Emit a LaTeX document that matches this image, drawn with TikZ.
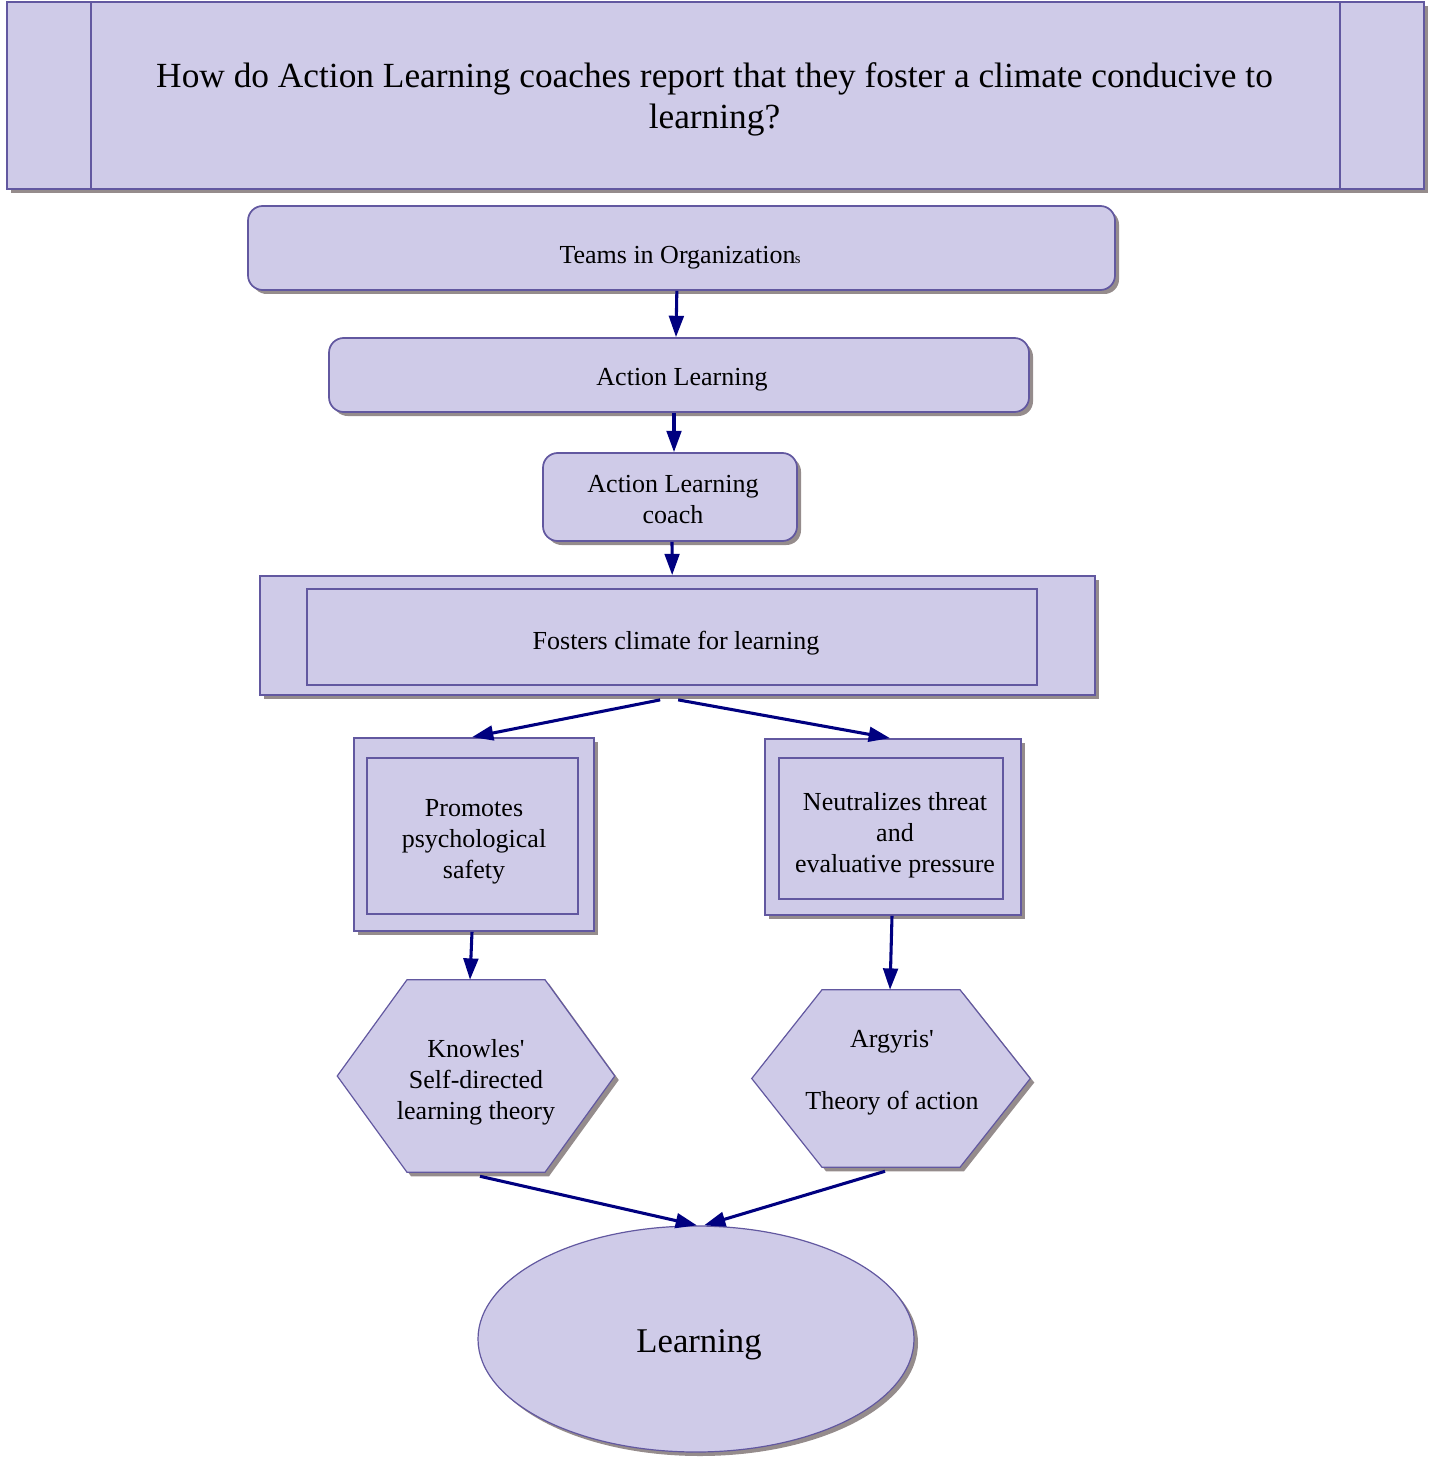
\documentclass[tikz,border=0pt]{standalone}
\usepackage{fontspec}
\setmainfont{Liberation Serif}
\usetikzlibrary{shadows,arrows.meta,shapes.geometric}
\definecolor{boxfill}{RGB}{207,203,232}
\definecolor{boxline}{RGB}{98,88,160}
\definecolor{shadowgray}{RGB}{149,140,140}
\definecolor{arrnavy}{RGB}{0,0,128}
\tikzset{
  shad/.style={drop shadow={shadow xshift=3pt,shadow yshift=-3pt,fill=shadowgray,opacity=1}},
  boxbase/.style={fill=boxfill,draw=boxline,line width=1.3pt,shad,inner sep=0pt},
  rbox/.style={boxbase,rectangle,rounded corners=11pt},
  sbox/.style={boxbase,rectangle},
  innerbox/.style={draw=boxline,line width=1.1pt},
  hexsty/.style={fill=boxfill,draw=boxline,line width=0.9pt,shad},
  hexbox/.style={inner sep=0pt},
  txt/.style={align=center,inner sep=0pt,font=\fontsize{19.5pt}{23.25pt}\selectfont},
  arr/.style={draw=arrnavy,line width=2.3pt,-{Triangle[length=16pt,width=11pt]}},
}
\begin{document}
\begin{tikzpicture}[x=0.75pt,y=-0.75pt]
\useasboundingbox (0,0) rectangle (1429,1458);
% title
\node[sbox,minimum width=1062.75pt,minimum height=140.25pt] (title) at (715.5,95.5) {};
\draw[boxline,line width=1.3pt] (title.north west -| 91,0) -- (title.south west -| 91,0);
\draw[boxline,line width=1.3pt] (title.north west -| 1340,0) -- (title.south west -| 1340,0);
\node[txt,font=\fontsize{26.5pt}{31pt}\selectfont] (titlet) at (714.5,99.5)
  {How do Action Learning coaches report that they foster a climate conducive to\\learning?};
% chain
\node[rbox,minimum width=650.25pt,minimum height=63pt] (teams) at (681.5,248) {};
\node[txt] (teamst) at (680,258) {Teams in Organization\kern-0.5pt{\fontsize{11pt}{11pt}\selectfont s}};
\node[rbox,minimum width=525pt,minimum height=55.5pt] (al) at (679,375) {};
\node[txt] (alt) at (682,380) {Action Learning};
\node[rbox,minimum width=190.5pt,minimum height=66pt] (coach) at (670,497) {};
\node[txt] (coacht) at (673,500) {Action Learning\\coach};
\node[sbox,minimum width=626.25pt,minimum height=89.25pt] (fost) at (677.5,635.5) {};
\draw[innerbox] (307,589) rectangle (1037,685);
\node[txt] (fostt) at (676,643) {Fosters climate for learning};
\node[sbox,minimum width=180pt,minimum height=144.75pt] (prom) at (474,834.5) {};
\draw[innerbox] (367,758) rectangle (578,914);
\node[txt] (promt) at (474,842) {Promotes\\psychological\\safety};
\node[sbox,minimum width=192pt,minimum height=132pt] (neut) at (893,827) {};
\draw[innerbox] (779,758) rectangle (1003,899);
\node[txt] (neutt) at (895,835) {Neutralizes threat\\and\\evaluative pressure};
% hexagons
\node[hexbox,minimum width=207.75pt,minimum height=144pt] (kn) at (476,1076) {};
\node[hexbox,minimum width=208.5pt,minimum height=132.75pt] (arg) at (891,1078.5) {};
\path[hexsty] (kn.west) -- ([xshift=-51.75pt]kn.north) -- ([xshift=51.75pt]kn.north) -- (kn.east)
  -- ([xshift=51.75pt]kn.south) -- ([xshift=-51.75pt]kn.south) -- cycle;
\path[hexsty] (arg.west) -- ([xshift=-51.75pt]arg.north) -- ([xshift=51.75pt]arg.north) -- (arg.east)
  -- ([xshift=51.75pt]arg.south) -- ([xshift=-51.75pt]arg.south) -- cycle;
\node[txt] (knt) at (476,1082) {Knowles\textquotesingle\\Self-directed\\learning theory};
\node[txt] (argt) at (892,1073) {Argyris\textquotesingle\\\mbox{}\\Theory of action};
% ellipse
\node[ellipse,fill=boxfill,draw=boxline,line width=0.9pt,shad,inner sep=0pt,
  minimum width=327pt,minimum height=169.5pt] (learn) at (696,1339) {};
\node[txt,font=\fontsize{26pt}{30pt}\selectfont] (learnt) at (699,1345) {Learning};
% connectors
\draw[arr] ([xshift=-3.5pt]teams.south) -- ([xshift=-2.25pt]al.north);
\draw[arr] ([xshift=-3.75pt]al.south) -- ([xshift=3pt]coach.north);
\draw[arr] ([xshift=1.5pt]coach.south) -- ([xshift=-4pt]fost.south |- fost.north);
\draw[arr] ([xshift=-13pt,yshift=-3pt]fost.south) -- ([xshift=-1.5pt]prom.north);
\draw[arr] ([xshift=0.5pt,yshift=-3pt]fost.south) -- ([xshift=-2.25pt]neut.north);
\draw[arr] ([xshift=-1.5pt]prom.south) -- ([xshift=-4.5pt]kn.north);
\draw[arr] ([xshift=-0.75pt]neut.south) -- ([xshift=-0.75pt]arg.north);
\draw[arr] ([xshift=3pt,yshift=-3pt]kn.south) -- ([xshift=0.75pt]learn.north);
\draw[arr] ([xshift=-4.5pt,yshift=-3pt]arg.south) -- ([xshift=6pt]learn.north);
\end{tikzpicture}
\end{document}
